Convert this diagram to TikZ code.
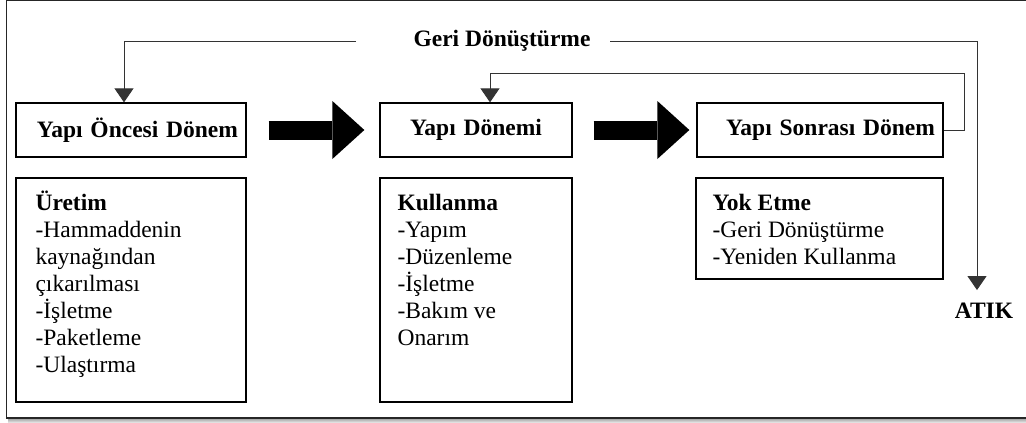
\documentclass[tikz,border=0pt]{standalone}
\usepackage{fontspec}
\setmainfont{Liberation Serif}
\usetikzlibrary{arrows.meta}

\tikzset{
	stage/.style={draw,line width=1.3pt,minimum height=54pt,inner xsep=8pt,inner ysep=0pt,font=\fontsize{23.5}{27}\selectfont\bfseries,align=right},
	panel/.style={draw,line width=1.3pt,inner sep=0pt},
	items/.style={anchor=north west,inner sep=0pt,align=left,font=\fontsize{23.5}{27}\selectfont},
	label/.style={inner sep=0pt,font=\fontsize{23.5}{27}\selectfont\bfseries},
	flow/.style={line width=1pt,black!80,-{Triangle[width=19pt,length=14pt]}},
	bigarrow/.style={line width=19pt,-{Triangle[width=58pt,length=32pt,line width=0pt]}}
}

\begin{document}
\begin{tikzpicture}[x=1pt,y=-1pt]
	\useasboundingbox (0,0) rectangle (1026,423);
	\shade[top color=gray!80,bottom color=gray!10] (8,418) rectangle (1026,423);
	\draw[line width=1.2pt,black!85] (1026,0.8) -- (6.5,0.8) -- (6.5,418) -- (1026,418);

	\node[stage,text width=214pt] (b1) at (131,130) {Yapı Öncesi Dönem};
	\node[stage,text width=176pt,align=center] (b2) at (476,130) {Yapı Dönemi};
	\node[stage,text width=230pt] (b3) at (820,130) {Yapı Sonrası Dönem};

	\node[panel,minimum width=230pt,minimum height=224pt] (b4) at (131,290) {};
	\node[panel,minimum width=192pt,minimum height=224pt] (b5) at (476,290) {};
	\node[panel,minimum width=247pt,minimum height=101pt] (b6) at (819.5,228.5) {};

	\node[items] (t4) at ([shift={(20pt,-12pt)}]b4.north west) {\rule{0pt}{21pt}\textbf{Üretim}\\-Hammaddenin\\kaynağından\\çıkarılması\\-İşletme\\-Paketleme\\-Ulaştırma};
	\node[items] (t5) at ([shift={(18pt,-12pt)}]b5.north west) {\rule{0pt}{21pt}\textbf{Kullanma}\\-Yapım\\-Düzenleme\\-İşletme\\-Bakım ve\\Onarım};
	\node[items] (t6) at ([shift={(17pt,-12pt)}]b6.north west) {\rule{0pt}{21pt}\textbf{Yok Etme}\\-Geri Dönüştürme\\-Yeniden Kullanma};

	\node[label] (geri) at (502,41) {Geri Dönüştürme};
	\node[label] (atik) at (984,311) {ATIK};
	\coordinate (gl) at (356,41);
	\coordinate (gr) at (610,41);
	\coordinate (ret) at (964,73);

	\draw[flow] (gl) -| ([xshift=-7pt]b1.north);
	\draw[flow] (gr) -| ([xshift=-7pt,yshift=13pt]atik.north);
	\draw[flow] (b3.east) -| (ret) -| ([xshift=14pt]b2.north);
	\draw[bigarrow] ([xshift=22pt]b1.east) -- ([xshift=-15pt]b2.west);
	\draw[bigarrow] ([xshift=21pt]b2.east) -- ([xshift=-7pt]b3.west);
\end{tikzpicture}
\end{document}
